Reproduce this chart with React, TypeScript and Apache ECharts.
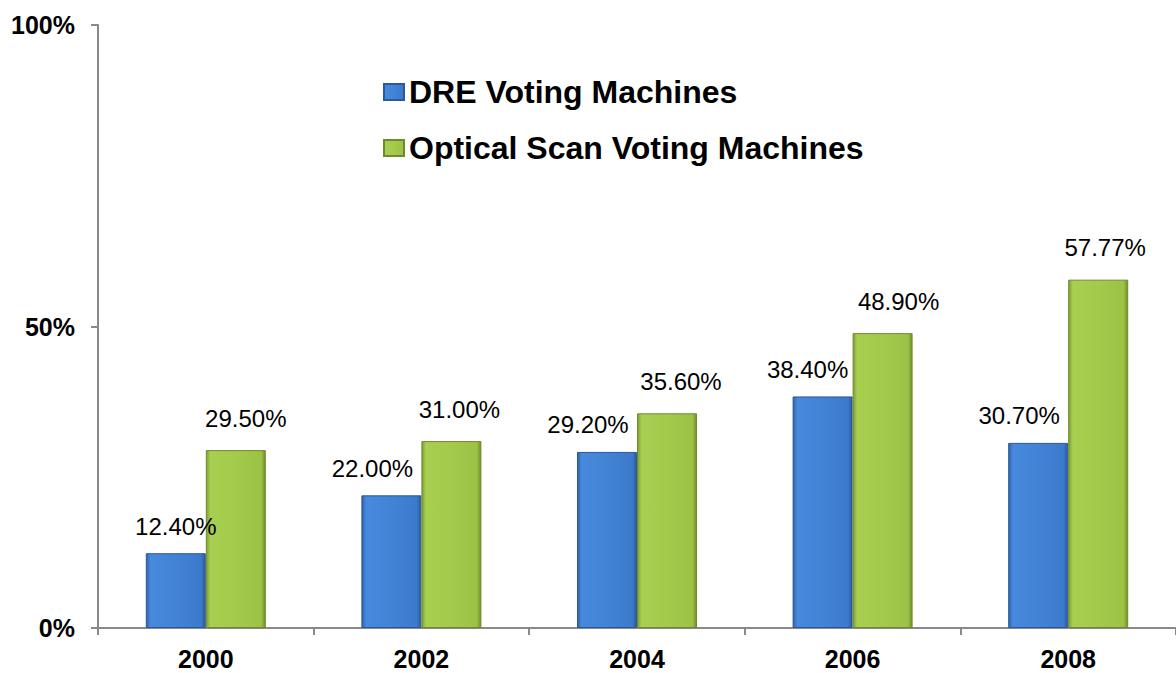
import React, { useEffect, useRef } from "react";
import * as echarts from "echarts";

const years = ["2000", "2002", "2004", "2006", "2008"];
const dreValues = [12.4, 22.0, 29.2, 38.4, 30.7];
const opticalValues = [29.5, 31.0, 35.6, 48.9, 57.77];
const yTicks = [0, 50, 100];
const seriesNames = ["DRE Voting Machines", "Optical Scan Voting Machines"];
// horizontal nudges of the hand-placed value labels (px)
const dreLabelDx = [0, -19, -19, -15, -19];
const opticalLabelDx = [10, 8, 14, 16, 7];

const FONT = "'Liberation Sans', Arial, sans-serif";

const blueFill = new echarts.graphic.LinearGradient(0, 0, 1, 0, [
  { offset: 0, color: "#2f62aa" },
  { offset: 0.07, color: "#4789dc" },
  { offset: 0.5, color: "#4283d6" },
  { offset: 0.93, color: "#3c7acb" },
  { offset: 1, color: "#2b5a9b" },
]);
const greenFill = new echarts.graphic.LinearGradient(0, 0, 1, 0, [
  { offset: 0, color: "#7f9e36" },
  { offset: 0.07, color: "#a8cf50" },
  { offset: 0.5, color: "#a4ca4c" },
  { offset: 0.93, color: "#9cc246" },
  { offset: 1, color: "#728f2c" },
]);

export default function App() {
  const ref = useRef<HTMLDivElement>(null);
  useEffect(() => {
    if (!ref.current) return;
    const chart = echarts.init(ref.current, undefined, { renderer: "svg" });
    const labelBase = {
      show: true,
      position: "top",
      fontFamily: FONT,
      fontSize: 24,
      color: "#000",
      formatter: (p: any) => p.value.toFixed(2) + "%",
    };
    chart.setOption({
      animation: false,
      backgroundColor: "#fff",
      grid: { left: 98, right: 0, top: 25, bottom: 45, containLabel: false },
      legend: {
        orient: "vertical",
        left: 383,
        top: 76,
        padding: 0,
        itemWidth: 20,
        itemHeight: 16,
        itemGap: 24,
        icon: "rect",
        textStyle: { fontFamily: FONT, fontSize: 32, fontWeight: "bold", color: "#000" },
        data: seriesNames,
      },
      xAxis: {
        type: "category",
        data: years,
        axisLine: { lineStyle: { color: "#898989", width: 2 } },
        axisTick: { show: true, length: 7, lineStyle: { color: "#898989", width: 2 } },
        axisLabel: { fontFamily: FONT, fontSize: 25, fontWeight: "bold", color: "#000", margin: 18 },
      },
      yAxis: {
        type: "value",
        min: yTicks[0],
        max: yTicks[yTicks.length - 1],
        interval: yTicks[1] - yTicks[0],
        splitLine: { show: false },
        axisLine: { show: true, lineStyle: { color: "#898989", width: 2 } },
        axisTick: { show: true, length: 7, lineStyle: { color: "#898989", width: 2 } },
        axisLabel: {
          fontFamily: FONT,
          fontSize: 25,
          fontWeight: "bold",
          color: "#000",
          margin: 23,
          formatter: (v: number) => v + "%",
        },
      },
      series: [
        {
          name: seriesNames[0],
          type: "bar",
          barWidth: 60,
          barGap: "0%",
          itemStyle: { color: blueFill, borderColor: "#2a5898", borderWidth: 1 },
          label: { ...labelBase, distance: 15 },
          data: dreValues.map((v, i) => ({ value: v, label: { offset: [dreLabelDx[i], 0] } })),
        },
        {
          name: seriesNames[1],
          type: "bar",
          barWidth: 60,
          barGap: "0%",
          itemStyle: { color: greenFill, borderColor: "#6f8a2c", borderWidth: 1 },
          label: { ...labelBase, distance: 20 },
          data: opticalValues.map((v, i) => ({ value: v, label: { offset: [opticalLabelDx[i], 0] } })),
        },
      ],
    });
    return () => chart.dispose();
  }, []);
  return <div ref={ref} style={{ width: 1176, height: 673, position: "absolute", left: 0, top: 0 }} />;
}
